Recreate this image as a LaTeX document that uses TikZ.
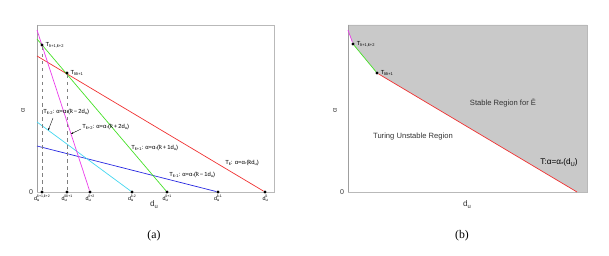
\documentclass[tikz,border=0pt]{standalone}
\usepackage{amsmath}
\usepackage{fontspec}
\setmainfont{Liberation Sans}
\newfontfamily\capfont{Liberation Serif}
\usetikzlibrary{arrows.meta, positioning}
\newcommand{\dn}[2][3.4]{\raisebox{-0.45ex}{\fontsize{#1}{#1}\selectfont #2}}
\newcommand{\up}[2][3]{\raisebox{0.8ex}{\fontsize{#1}{#1}\selectfont #2}}
\newcommand{\du}[1]{d\makebox[0pt][l]{\dn[3.4]{u}}\up[3]{#1}}
\newcommand{\kb}{\=k}
\definecolor{magline}{RGB}{235,60,235}
\definecolor{grnline}{RGB}{70,225,40}
\definecolor{redline}{RGB}{240,50,50}
\definecolor{cyaline}{RGB}{70,215,240}
\definecolor{bluline}{RGB}{40,40,225}
\tikzset{
  dot/.style={circle, fill=black, inner sep=0pt, minimum size=2.6pt},
  lbl/.style={font=\fontsize{5}{6}\selectfont, inner sep=1pt},
  ticklbl/.style={font=\fontsize{4.6}{5}\selectfont, inner sep=0.4pt, below=0.8pt},
  axlbl/.style={font=\fontsize{6}{7}\selectfont, text=black!80, inner sep=0pt},
  frame/.style={draw=gray!55, line width=0.5pt},
  curve/.style={line width=0.6pt},
  pointer/.style={-{Stealth[length=2pt, width=1.6pt]}, line width=0.3pt}
}

\begin{document}
\begin{tikzpicture}[x=0.03cm, y=-0.03cm]
    \useasboundingbox (0,0) rectangle (609,256);
    % ---------- Panel (a) ----------
    % Frame
    \draw[frame] (37,25) rectangle (274,192);
    \draw[gray!75, line width=0.6pt] (37,25) -- (37,192);
    % Points on the d_u axis
    \foreach \nm/\x/\lab in {b12/42/{\kb+1,\kb+2}, b01/67/{\kb\kb+1},
        bk2/90/{\kb+2}, bkm2/132/{\kb-2}, bk1/167/{\kb+1},
        bkm1/218/{\kb-1}, bk/265/{\kb}} {
        \node[dot] (\nm) at (\x,192) {};
        \node[ticklbl] (\nm l) at (\nm.south) {\du{\lab}};
    }
    % Start points on the alpha axis
    \coordinate (mA) at (37,30);
    \coordinate (gA) at (37,39);
    \coordinate (rA) at (37,56);
    \coordinate (cA) at (37,122);
    \coordinate (uA) at (37,146);
    % Curves
    \draw[curve, bluline] (uA) -- (bkm1);
    \draw[curve, cyaline] (cA) -- (bkm2) coordinate[pos=0.12] (onC);
    \draw[curve, redline] (rA) -- (bk);
    \draw[curve, grnline] (gA) -- (bk1);
    \draw[curve, magline] (mA) -- (bk2) coordinate[pos=0.648] (onM);
    % Intersection points
    \node[dot] (T12) at (42,45) {};
    \node[dot] (T01) at (67,73) {};
    \draw[dashed, gray, line width=0.4pt] (T12) -- (b12);
    \draw[dashed, gray, line width=0.4pt] (T01) -- (b01);
    \node[lbl, right=0.5pt of T12] (T12l) {T\dn{\kb+1,\kb+2}};
    \node[lbl, right=0.5pt of T01] (T01l) {T\dn{\kb\kb+1}};
    % Curve labels
    \node[lbl, anchor=west] (Lkm2) at (42,112) {T\dn{\kb-2}: α=α\dn{*}(\kb\,−\,2d\dn{u})};
    \node[lbl, anchor=west] (Lk2) at (81,127) {T\dn{\kb+2}: α=α\dn{*}(\kb\,+\,2d\dn{u})};
    \node[lbl, anchor=west] (Lk1) at (130,148) {T\dn{\kb+1}: α=α\dn{*}(\kb\,+\,1d\dn{u})};
    \node[lbl, anchor=west] (Lk) at (224,163) {T\dn{\kb}: α=α\dn{*}(\kb d\dn{u})};
    \node[lbl, anchor=west] (Lkm1) at (168,175) {T\dn{\kb-1}: α=α\dn{*}(\kb\,−\,1d\dn{u})};
    \coordinate (pS1) at (53,118);
    \coordinate (pS2) at (81,129);
    \draw[pointer] (pS1) -- (onC);
    \draw[pointer] (pS2) -- (onM);
    % Axis labels
    \node[axlbl, rotate=90] (alA) at (23,110) {α};
    \node[axlbl] (zeA) at (31,192) {0};
    \node[font=\fontsize{7}{8}\selectfont, text=black!80] (duA) at (154,205) {d\dn[5]{u}};
    \node[font=\capfont\fontsize{10}{12}\selectfont] (capA) at (154,236) {(a)};

    % ---------- Panel (b) ----------
    % Stable region
    \coordinate (mB) at (348,30);
    \coordinate (eB) at (577,192);
    \fill[gray!42] (348,25) -- (mB) -- (353,44) -- (377,73) -- (eB) -- (587,192) -- (587,25) -- cycle;
    \draw[frame] (348,25) rectangle (587,192);
    \draw[gray!75, line width=0.6pt] (348,25) -- (348,192);
    \node[dot] (S12) at (353,44) {};
    \node[dot] (S01) at (377,73) {};
    % Boundary curve
    \draw[curve, magline] (mB) -- (S12);
    \draw[curve, grnline] (S12) -- (S01);
    \draw[curve, redline] (S01) -- (eB);
    \node[lbl, right=0.5pt of S12] (S12l) {T\dn{\kb+1,\kb+2}};
    \node[lbl, right=0.5pt of S01] (S01l) {T\dn{\kb\kb+1}};
    % Region labels
    \node[font=\fontsize{6.5}{8}\selectfont, text=black!80] (stab) at (503,103) {Stable Region for Ē};
    \node[font=\fontsize{6.5}{8}\selectfont, text=black!80] (unst) at (413,137) {Turing Unstable Region};
    \node[font=\fontsize{7}{8}\selectfont] (TB) at (559,163) {T:α=α\dn[5]{*}(d\dn[5]{U})};
    % Axis labels
    \node[axlbl, rotate=90] (alB) at (335,110) {α};
    \node[axlbl] (zeB) at (342,192) {0};
    \node[font=\fontsize{7}{8}\selectfont, text=black!80] (duB) at (467,205) {d\dn[5]{u}};
    \node[font=\capfont\fontsize{10}{12}\selectfont] (capB) at (462,236) {(b)};
\end{tikzpicture}
\end{document}
